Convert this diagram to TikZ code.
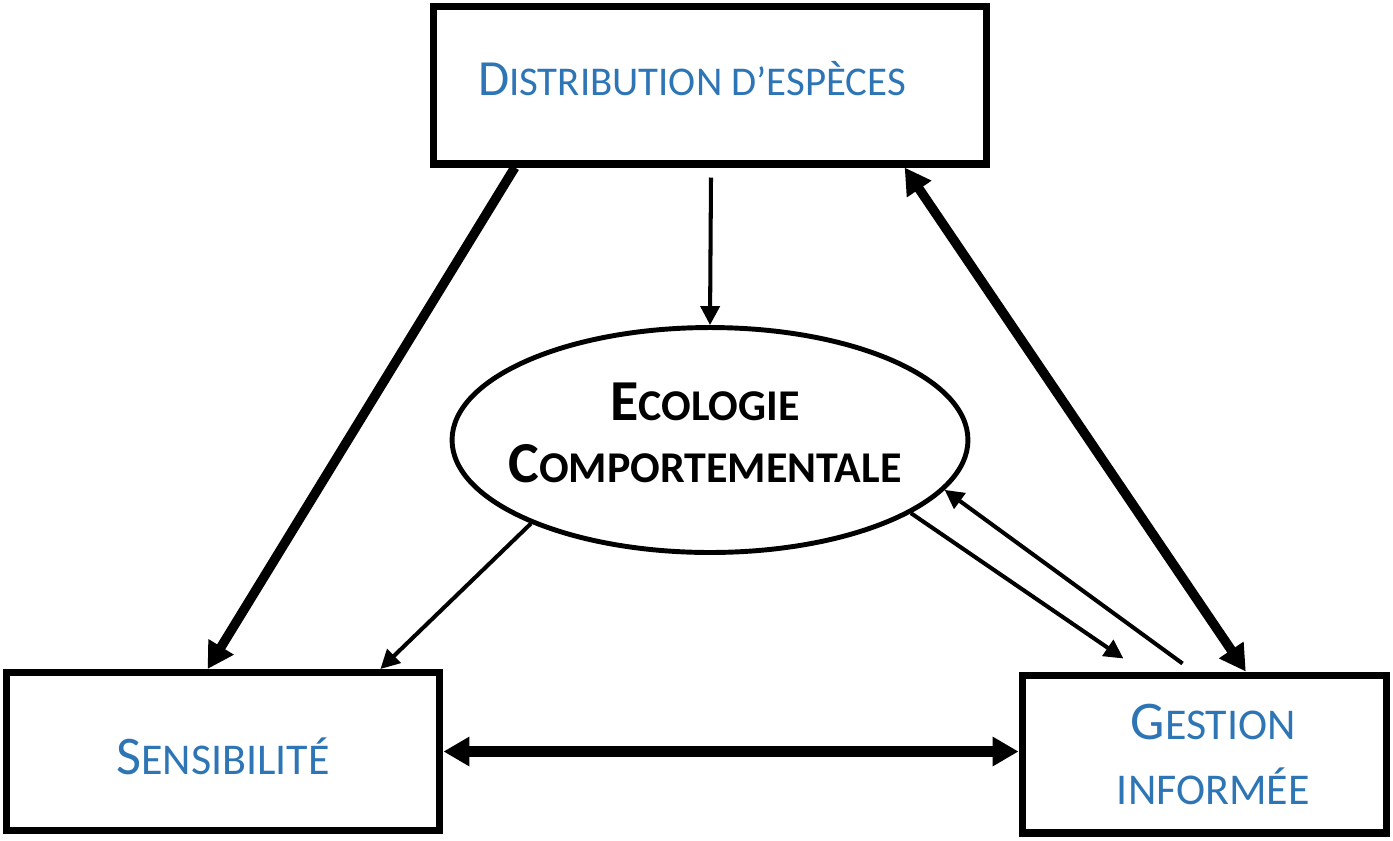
\documentclass[tikz,border=0pt]{standalone}
\usepackage{fontspec}
\setmainfont{Carlito}
\usetikzlibrary{calc}
\usetikzlibrary{arrows.meta}
\usetikzlibrary{shapes.geometric}

\definecolor{titleblue}{RGB}{46,117,182}
\newcommand{\fakesc}[2]{{\fontsize{31}{37}\selectfont #1}{\fontsize{25}{37}\selectfont #2}}
\newcommand{\fakescbf}[2]{{\bfseries\fontsize{33}{35}\selectfont #1}{\bfseries\fontsize{25}{35}\selectfont #2}}

\begin{document}
\begin{tikzpicture}[x=0.02cm, y=-0.02cm,
    box/.style={draw, line width=4pt, inner sep=0pt, minimum height=3.16cm,
      align=center, text=titleblue, font=\fontsize{31}{37}\selectfont},
    bigarrow/.style={line width=5.4pt, -{Triangle[length=0.52cm,width=0.56cm]}},
    bigdouble/.style={line width=6.2pt, {Triangle[length=0.52cm,width=0.56cm]}-{Triangle[length=0.52cm,width=0.56cm]}},
    smallarrow/.style={line width=2.3pt, -{Triangle[length=0.38cm,width=0.38cm]}}]
      \useasboundingbox (0,0) rectangle (1393,840);

      \node[box, minimum width=11.08cm] (dist) at (710,85)
        {\hspace*{-0.72cm}\raisebox{7pt}{\scalebox{0.93}{\fakesc{D}{ISTRIBUTION D’ESPÈCES}}}};
      \node[box, minimum width=8.68cm] (sens) at (223,751.5) {\raisebox{-3pt}[\height][\depth]{\fakesc{S}{ENSIBILITÉ}}};
      \node[box, minimum width=7.3cm] (gest) at (1204.5,754)
        {\hspace*{0.35cm}\fakesc{G}{ESTION}\\\hspace*{0.35cm}\fakesc{}{INFORMÉE}};

      \node[ellipse, draw, line width=2.8pt, inner sep=0pt,
        minimum width=10.32cm, minimum height=4.5cm,
        label={[align=center, font=\bfseries\fontsize{33}{35}\selectfont, yshift=0.14cm, xshift=-0.1cm]center:\fakescbf{E}{COLOGIE}\\\fakescbf{C}{OMPORTEMENTALE}}]
        (eco) at (710,440) {};

      \begin{scope}[bigarrow]
        \draw ($(dist.south west)!0.152!(dist.south east)$) -- ($(sens.north west)!0.465!(sens.north east)$);
        \draw[bigdouble, line width=5.4pt] ($(dist.south west)!0.847!(dist.south east)$) -- ($(gest.north west)!0.611!(gest.north east)$);
        \draw[bigdouble] (sens.east) -- (sens.east -| gest.west);
      \end{scope}

      \begin{scope}[smallarrow]
        \draw ($(dist.south)+(1,10)$) -- (eco.north);
        \draw (eco.205) -- ($(sens.north west)!0.857!(sens.north east)$);
        \draw (eco.-20) -- ($(gest.north west)!0.282!(gest.north east)+(0,-13)$);
        \draw ($(gest.north west)!0.441!(gest.north east)+(0,-8)$) -- (eco.-12.6);
      \end{scope}
\end{tikzpicture}
\end{document}
